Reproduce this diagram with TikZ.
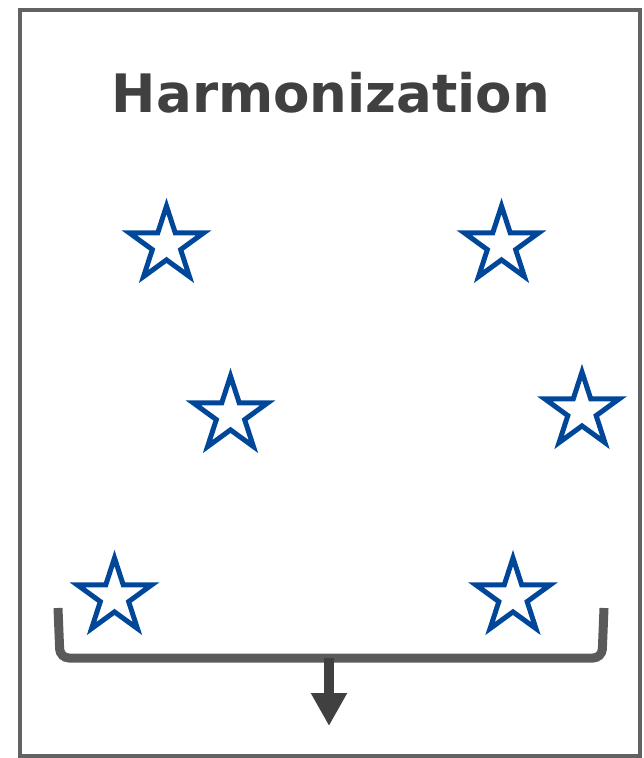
\documentclass[tikz,border=0pt]{standalone}
\usepackage{fontspec}
\setmainfont{DejaVu Sans}
\usetikzlibrary{shapes.geometric,arrows.meta}
\definecolor{framegray}{HTML}{626262}
\definecolor{bracegray}{HTML}{5A5A5A}
\definecolor{darkgray}{HTML}{404040}
\definecolor{starblue}{HTML}{00479A}
\tikzset{
  frame/.style={draw=framegray,line width=4pt},
  title/.style={font=\fontsize{53}{60}\selectfont\bfseries,text=darkgray,inner sep=0pt,anchor=base},
  starnode/.style={star,star points=5,star point ratio=2.618,minimum size=78pt,inner sep=0pt,
                   draw=starblue,line width=5pt,fill=white},
  brace/.style={draw=bracegray,line width=9pt,rounded corners=9pt},
  outarrow/.style={draw=darkgray,line width=10pt,-{Triangle[width=34pt,length=33pt]}}
}
\begin{document}
\begin{tikzpicture}[x=1pt,y=-1pt]
  \useasboundingbox (0,0) rectangle (643,758);
  % outer frame
  \draw[frame] (20,10) rectangle (640,756);
  % heading
  \node[title] (heading) at (331,112) {Harmonization};
  % scattered items
  \node[starnode] (s1) at (166.5,245) {};
  \node[starnode] (s2) at (501.5,245) {};
  \node[starnode] (s3) at (230.5,415) {};
  \node[starnode] (s4) at (582,411) {};
  \node[starnode] (s5) at (114.5,597) {};
  \node[starnode] (s6) at (513,597) {};
  % collecting bracket and output arrow
  \coordinate (bl) at (58,608);
  \coordinate (br) at (604,608);
  \coordinate (brmid) at (329,658);
  \coordinate (out) at (329,726);
  \draw[brace] (bl) -- (60,658) -- (602,658) -- (br);
  \draw[outarrow] (brmid) -- (out);
\end{tikzpicture}
\end{document}
